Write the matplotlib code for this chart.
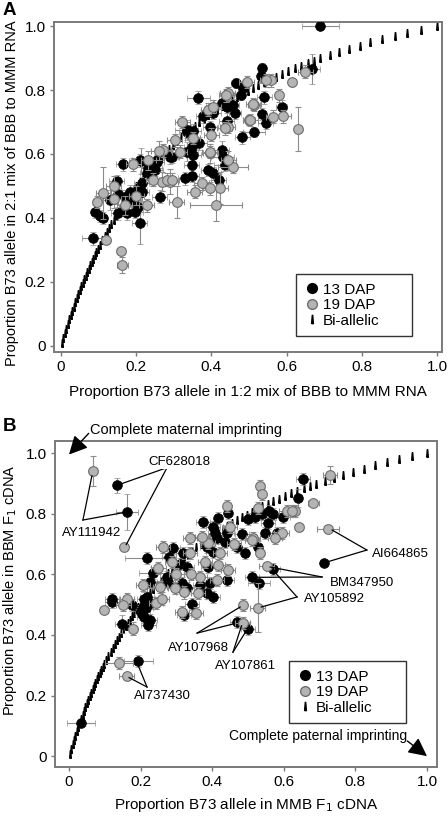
import matplotlib
matplotlib.use("Agg")
import matplotlib.pyplot as plt
from matplotlib.lines import Line2D

plt.rcParams['font.family'] = ['Liberation Sans', 'DejaVu Sans']

# ---- panel A: 2:1 vs 1:2 RNA mixes ----
a13_x = [0.69, 0.668, 0.535, 0.531, 0.466, 0.485, 0.478, 0.365, 0.54, 0.587, 0.534, 0.545, 0.513, 0.482,
         0.428, 0.441, 0.458, 0.463, 0.441, 0.378, 0.405, 0.397, 0.334, 0.352, 0.368, 0.348, 0.334, 0.352,
         0.427, 0.43, 0.294, 0.254, 0.212, 0.166, 0.392, 0.405, 0.419, 0.436, 0.348, 0.33, 0.248, 0.23,
         0.148, 0.215, 0.215, 0.09, 0.104, 0.112, 0.13, 0.152, 0.17, 0.21, 0.183, 0.192, 0.205, 0.152,
         0.175, 0.197, 0.21, 0.085, 0.263, 0.25, 0.29, 0.348, 0.21, 0.232, 0.255, 0.334]
a13_y = [1.0, 0.865, 0.868, 0.843, 0.821, 0.805, 0.784, 0.776, 0.777, 0.748, 0.725, 0.697, 0.668, 0.652,
         0.76, 0.748, 0.753, 0.728, 0.703, 0.718, 0.728, 0.684, 0.675, 0.673, 0.634, 0.623, 0.607, 0.598,
         0.612, 0.59, 0.591, 0.576, 0.578, 0.568, 0.55, 0.54, 0.518, 0.566, 0.531, 0.524, 0.555, 0.54,
         0.515, 0.508, 0.482, 0.42, 0.406, 0.40, 0.456, 0.475, 0.466, 0.488, 0.482, 0.456, 0.434, 0.415,
         0.415, 0.42, 0.385, 0.337, 0.466, 0.55, 0.59, 0.565, 0.58, 0.556, 0.58, 0.67]
a13_xerr = [0.05, 0.02, 0.01, 0.01, 0.015, 0.015, 0.01, 0.03, 0.02, 0.015, 0.01, 0.02, 0.03, 0.02,
            0.02, 0.02, 0.015, 0.015, 0.02, 0.02, 0.02, 0.02, 0.03, 0.02, 0.02, 0.02, 0.03, 0.02,
            0.02, 0.03, 0.02, 0.02, 0.03, 0.02, 0.02, 0.02, 0.02, 0.03, 0.02, 0.02, 0.02, 0.02,
            0.02, 0.02, 0.02, 0.01, 0.01, 0.01, 0.02, 0.02, 0.02, 0.02, 0.02, 0.02, 0.02, 0.02,
            0.02, 0.02, 0.02, 0.03, 0.02, 0.02, 0.02, 0.02, 0.02, 0.02, 0.02, 0.02]
a13_yerr = [0.005, 0.047, 0.015, 0.02, 0.015, 0.02, 0.015, 0.02, 0.02, 0.02, 0.02, 0.02, 0.015, 0.02,
            0.02, 0.02, 0.02, 0.02, 0.03, 0.02, 0.02, 0.02, 0.03, 0.02, 0.02, 0.02, 0.03, 0.02,
            0.03, 0.02, 0.02, 0.02, 0.04, 0.02, 0.02, 0.02, 0.02, 0.02, 0.02, 0.02, 0.02, 0.02,
            0.02, 0.02, 0.03, 0.02, 0.02, 0.02, 0.03, 0.03, 0.02, 0.02, 0.02, 0.02, 0.02, 0.02,
            0.02, 0.02, 0.065, 0.02, 0.02, 0.02, 0.02, 0.02, 0.02, 0.02, 0.02, 0.02]

a19_x = [0.65, 0.614, 0.558, 0.545, 0.443, 0.58, 0.591, 0.565, 0.631, 0.5, 0.513, 0.444, 0.323, 0.392,
         0.405, 0.316, 0.303, 0.397, 0.272, 0.232, 0.192, 0.458, 0.445, 0.374, 0.397, 0.423, 0.29, 0.268,
         0.356, 0.096, 0.112, 0.12, 0.16, 0.163, 0.228, 0.308, 0.412, 0.245, 0.281, 0.295, 0.396, 0.494,
         0.44, 0.511, 0.503, 0.40, 0.436, 0.2, 0.17, 0.14, 0.26, 0.35, 0.14]
a19_y = [0.857, 0.824, 0.83, 0.83, 0.79, 0.784, 0.718, 0.716, 0.678, 0.706, 0.753, 0.685, 0.70, 0.738,
         0.748, 0.607, 0.643, 0.602, 0.612, 0.58, 0.568, 0.56, 0.58, 0.508, 0.493, 0.494, 0.514, 0.514,
         0.482, 0.45, 0.478, 0.33, 0.297, 0.253, 0.44, 0.45, 0.44, 0.52, 0.52, 0.52, 0.606, 0.825,
         0.784, 0.756, 0.706, 0.66, 0.68, 0.47, 0.44, 0.46, 0.61, 0.65, 0.5]
a19_xerr = [0.02, 0.01, 0.015, 0.015, 0.02, 0.01, 0.02, 0.02, 0.01, 0.015, 0.015, 0.02, 0.02, 0.02,
            0.02, 0.02, 0.02, 0.02, 0.02, 0.02, 0.02, 0.04, 0.02, 0.02, 0.02, 0.02, 0.02, 0.02,
            0.02, 0.01, 0.02, 0.01, 0.01, 0.015, 0.02, 0.02, 0.07, 0.02, 0.02, 0.02, 0.02, 0.02,
            0.02, 0.02, 0.02, 0.02, 0.02, 0.02, 0.02, 0.02, 0.02, 0.02, 0.02]
a19_yerr = [0.02, 0.01, 0.02, 0.02, 0.02, 0.02, 0.02, 0.02, 0.068, 0.015, 0.02, 0.02, 0.02, 0.02,
            0.02, 0.02, 0.02, 0.03, 0.02, 0.03, 0.02, 0.02, 0.03, 0.02, 0.02, 0.05, 0.04, 0.03,
            0.02, 0.02, 0.08, 0.01, 0.01, 0.025, 0.02, 0.05, 0.05, 0.02, 0.02, 0.02, 0.02, 0.02,
            0.02, 0.02, 0.02, 0.02, 0.02, 0.03, 0.03, 0.03, 0.03, 0.02, 0.03]

# ---- panel B: reciprocal F1 cDNA ----
b13_x = [0.134, 0.162, 0.653, 0.64, 0.712, 0.559, 0.598, 0.5, 0.52, 0.538, 0.556, 0.547, 0.58, 0.484,
         0.529, 0.492, 0.47, 0.445, 0.417, 0.375, 0.403, 0.408, 0.44, 0.436, 0.413, 0.385, 0.403, 0.291,
         0.217, 0.28, 0.318, 0.31, 0.33, 0.389, 0.511, 0.531, 0.57, 0.235, 0.273, 0.277, 0.315, 0.33,
         0.366, 0.394, 0.44, 0.226, 0.385, 0.403, 0.12, 0.217, 0.12, 0.175, 0.149, 0.209, 0.222, 0.226,
         0.207, 0.226, 0.343, 0.322, 0.47, 0.5, 0.194, 0.034, 0.57, 0.534, 0.21, 0.215, 0.205]
b13_y = [0.894, 0.806, 0.915, 0.852, 0.636, 0.81, 0.788, 0.781, 0.788, 0.80, 0.77, 0.737, 0.737, 0.733,
         0.69, 0.67, 0.69, 0.802, 0.785, 0.773, 0.757, 0.736, 0.737, 0.707, 0.72, 0.69, 0.674, 0.686,
         0.653, 0.657, 0.67, 0.634, 0.624, 0.624, 0.59, 0.571, 0.617, 0.603, 0.59, 0.575, 0.571, 0.554,
         0.564, 0.571, 0.581, 0.575, 0.538, 0.525, 0.518, 0.525, 0.51, 0.498, 0.436, 0.46, 0.432, 0.448,
         0.492, 0.505, 0.502, 0.465, 0.443, 0.421, 0.313, 0.109, 0.80, 0.805, 0.52, 0.49, 0.47]
b13_xerr = [0.01, 0.03, 0.02, 0.01, 0.01, 0.01, 0.02, 0.01, 0.01, 0.01, 0.02, 0.01, 0.02, 0.02,
            0.01, 0.01, 0.01, 0.01, 0.01, 0.02, 0.02, 0.02, 0.02, 0.02, 0.02, 0.02, 0.02, 0.02,
            0.06, 0.02, 0.02, 0.02, 0.02, 0.02, 0.02, 0.03, 0.02, 0.04, 0.02, 0.02, 0.02, 0.02,
            0.02, 0.02, 0.02, 0.02, 0.02, 0.02, 0.02, 0.02, 0.02, 0.02, 0.02, 0.02, 0.02, 0.02,
            0.02, 0.02, 0.02, 0.02, 0.02, 0.02, 0.04, 0.04, 0.01, 0.01, 0.02, 0.02, 0.02]
b13_yerr = [0.025, 0.06, 0.02, 0.03, 0.01, 0.02, 0.02, 0.02, 0.02, 0.02, 0.02, 0.02, 0.02, 0.02,
            0.02, 0.02, 0.02, 0.02, 0.02, 0.02, 0.02, 0.02, 0.02, 0.02, 0.02, 0.02, 0.02, 0.02,
            0.02, 0.02, 0.02, 0.02, 0.02, 0.02, 0.02, 0.02, 0.02, 0.02, 0.02, 0.02, 0.02, 0.02,
            0.02, 0.02, 0.02, 0.02, 0.02, 0.02, 0.02, 0.03, 0.02, 0.02, 0.03, 0.02, 0.02, 0.02,
            0.02, 0.02, 0.02, 0.02, 0.02, 0.02, 0.02, 0.01, 0.02, 0.02, 0.02, 0.02, 0.02]

b19_x = [0.067, 0.154, 0.729, 0.682, 0.642, 0.724, 0.534, 0.538, 0.608, 0.631, 0.529, 0.594, 0.575, 0.514,
         0.534, 0.442, 0.45, 0.389, 0.338, 0.371, 0.422, 0.263, 0.287, 0.338, 0.417, 0.445, 0.552, 0.413,
         0.207, 0.254, 0.296, 0.366, 0.36, 0.162, 0.098, 0.152, 0.179, 0.243, 0.315, 0.354, 0.485, 0.527,
         0.485, 0.14, 0.161, 0.623, 0.511, 0.30, 0.34, 0.25, 0.32, 0.26, 0.38, 0.46]
b19_y = [0.941, 0.69, 0.927, 0.835, 0.756, 0.75, 0.892, 0.866, 0.81, 0.81, 0.818, 0.737, 0.72, 0.72,
         0.67, 0.825, 0.757, 0.702, 0.72, 0.722, 0.67, 0.69, 0.641, 0.67, 0.63, 0.614, 0.627, 0.581,
         0.564, 0.558, 0.554, 0.59, 0.538, 0.518, 0.482, 0.498, 0.421, 0.505, 0.476, 0.472, 0.498, 0.49,
         0.438, 0.307, 0.264, 0.81, 0.713, 0.60, 0.60, 0.62, 0.54, 0.52, 0.64, 0.70]
b19_xerr = [0.01, 0.01, 0.02, 0.015, 0.01, 0.03, 0.01, 0.01, 0.02, 0.01, 0.01, 0.02, 0.02, 0.02,
            0.01, 0.01, 0.02, 0.02, 0.02, 0.02, 0.02, 0.02, 0.02, 0.02, 0.02, 0.02, 0.02, 0.02,
            0.02, 0.02, 0.02, 0.02, 0.02, 0.02, 0.01, 0.02, 0.01, 0.02, 0.02, 0.02, 0.01, 0.02,
            0.02, 0.04, 0.02, 0.02, 0.02, 0.02, 0.02, 0.02, 0.02, 0.02, 0.02, 0.02]
b19_yerr = [0.05, 0.01, 0.03, 0.01, 0.01, 0.01, 0.02, 0.02, 0.02, 0.02, 0.02, 0.02, 0.02, 0.02,
            0.02, 0.02, 0.02, 0.02, 0.02, 0.02, 0.02, 0.02, 0.02, 0.02, 0.02, 0.02, 0.01, 0.02,
            0.02, 0.02, 0.02, 0.02, 0.02, 0.02, 0.01, 0.02, 0.02, 0.02, 0.02, 0.02, 0.02, 0.08,
            0.02, 0.02, 0.01, 0.02, 0.02, 0.02, 0.02, 0.02, 0.02, 0.02, 0.02, 0.02]

# bi-allelic expectation (same points on both panels)
bi_x = [0.002, 0.006, 0.010, 0.014, 0.018, 0.022, 0.026, 0.030, 0.034, 0.038, 0.042, 0.046, 0.050,
        0.054, 0.058, 0.062, 0.066, 0.070, 0.074, 0.078, 0.082, 0.086, 0.090, 0.094, 0.098,
        0.104, 0.110, 0.116, 0.122, 0.128, 0.134, 0.140, 0.146, 0.152, 0.158, 0.164, 0.170, 0.176,
        0.182, 0.188, 0.194, 0.200, 0.209, 0.218, 0.227, 0.236, 0.246, 0.256, 0.266, 0.276, 0.287,
        0.298, 0.309, 0.320, 0.332, 0.344, 0.356, 0.368, 0.380, 0.392, 0.404, 0.416, 0.429, 0.442,
        0.455, 0.468, 0.482, 0.496, 0.510, 0.525, 0.540, 0.555, 0.571, 0.587, 0.604, 0.621, 0.638,
        0.656, 0.673, 0.690, 0.715, 0.740, 0.766, 0.794, 0.823, 0.854, 0.887, 0.921, 0.957, 1.000]
bi_y = [0.008, 0.024, 0.039, 0.054, 0.068, 0.083, 0.097, 0.110, 0.123, 0.136, 0.149, 0.162, 0.174,
        0.186, 0.198, 0.209, 0.220, 0.231, 0.242, 0.253, 0.263, 0.273, 0.284, 0.293, 0.303,
        0.317, 0.331, 0.344, 0.357, 0.370, 0.382, 0.394, 0.406, 0.418, 0.429, 0.440, 0.450, 0.461,
        0.471, 0.481, 0.491, 0.500, 0.514, 0.527, 0.540, 0.553, 0.566, 0.579, 0.592, 0.604, 0.617,
        0.629, 0.641, 0.653, 0.665, 0.677, 0.689, 0.700, 0.710, 0.721, 0.731, 0.740, 0.750, 0.760,
        0.770, 0.779, 0.788, 0.797, 0.806, 0.816, 0.824, 0.833, 0.842, 0.850, 0.859, 0.868, 0.876,
        0.884, 0.892, 0.899, 0.909, 0.919, 0.929, 0.939, 0.949, 0.959, 0.969, 0.979, 0.989, 1.000]

ticks = [0, 0.2, 0.4, 0.6, 0.8, 1.0]
tick_labels = ['0', '0.2', '0.4', '0.6', '0.8', '1.0']

BLACK = '#000000'
GREY_FILL = '#b4b4b4'
GREY_EDGE = '#6e6e6e'
ERR = '#8c8c8c'
SPINE = '#7a7a7a'
# small tapered "arrow" marker for the bi-allelic points
bi_marker = [(-0.22, -1.0), (0.22, -1.0), (0.05, 1.0), (-0.05, 1.0), (-0.22, -1.0)]


def draw_panel(ax, p13, p19, xlim, ylim, xlabel, ylabel, ylabel_pos, leg_box, xlabelpad):
    ax.plot(bi_x, bi_y, linestyle='none', marker=bi_marker, ms=5.5, color=BLACK, zorder=2)
    x, y, xe, ye = p13
    ax.errorbar(x, y, xerr=xe, yerr=ye, fmt='o', ms=7, mfc=BLACK, mec=BLACK, mew=0.5,
                ecolor=ERR, elinewidth=0.8, capsize=2.5, capthick=0.8, zorder=3)
    x, y, xe, ye = p19
    ax.errorbar(x, y, xerr=xe, yerr=ye, fmt='o', ms=7, mfc=GREY_FILL, mec=GREY_EDGE, mew=0.8,
                ecolor=ERR, elinewidth=0.8, capsize=2.5, capthick=0.8, zorder=4)
    ax.set_xlim(*xlim)
    ax.set_ylim(*ylim)
    ax.set_xticks(ticks)
    ax.set_xticklabels(tick_labels)
    ax.set_yticks(ticks)
    ax.set_yticklabels(tick_labels)
    ax.tick_params(direction='out', length=3, width=1, color=SPINE, labelsize=11, pad=3)
    for s in ax.spines.values():
        s.set_color(SPINE)
        s.set_linewidth(1.4)
    ax.set_xlabel(xlabel, fontsize=11, labelpad=xlabelpad)
    ax.set_ylabel(ylabel, fontsize=10.5)
    ax.yaxis.set_label_coords(*ylabel_pos)
    handles = [
        Line2D([], [], linestyle='none', marker='o', ms=7, mfc=BLACK, mec=BLACK),
        Line2D([], [], linestyle='none', marker='o', ms=7, mfc=GREY_FILL, mec=GREY_EDGE),
        Line2D([], [], linestyle='none', marker=bi_marker, ms=6, color=BLACK),
    ]
    leg = ax.legend(handles, ['13 DAP', '19 DAP', 'Bi-allelic'], loc='lower left',
                    bbox_to_anchor=leg_box, mode='expand', fontsize=11, frameon=True,
                    fancybox=False, handletextpad=0.2, handlelength=1.0, borderpad=0.55,
                    labelspacing=0.1, borderaxespad=0)
    leg.get_frame().set_edgecolor(BLACK)
    leg.get_frame().set_linewidth(1.0)
    leg.set_zorder(10)


fig = plt.figure(figsize=(4.48, 8.16), dpi=100)
axA = fig.add_axes([0.1205, 0.5686, 0.866, 0.4044])
axB = fig.add_axes([0.1228, 0.0600, 0.8527, 0.3995])

draw_panel(axA, (a13_x, a13_y, a13_xerr, a13_yerr), (a19_x, a19_y, a19_xerr, a19_yerr),
           (-0.0186, 1.013), (-0.019, 1.0125),
           'Proportion B73 allele in 1:2 mix of BBB to MMM RNA',
           'Proportion B73 allele in 2:1 mix of BBB to MMM RNA', (-0.09, 0.48),
           (0.624, 0.048, 0.299, 0.19), 8)
draw_panel(axB, (b13_x, b13_y, b13_xerr, b13_yerr), (b19_x, b19_y, b19_xerr, b19_yerr),
           (-0.039, 1.028), (-0.036, 1.0396),
           'Proportion B73 allele in MMB F$_1$ cDNA',
           'Proportion B73 allele in BBM F$_1$ cDNA', (-0.094, 0.543),
           (0.613, 0.135, 0.306, 0.19), 5)

fig.text(0.006, 0.997, 'A', fontsize=13.5, fontweight='bold', va='top', ha='left')
fig.text(0.006, 0.488, 'B', fontsize=13.5, fontweight='bold', va='top', ha='left')

# imprinting arrows
arrow = dict(arrowstyle='-|>', mutation_scale=28, color=BLACK, lw=1.0, shrinkA=0, shrinkB=0)
axB.annotate('', xy=(0.0, 0.995), xytext=(0.055, 1.065), arrowprops=arrow, annotation_clip=False)
axB.text(0.06, 1.075, 'Complete maternal imprinting', fontsize=10.5, ha='left', va='center')
axB.annotate('', xy=(1.0, 0.0), xytext=(0.945, 0.05), arrowprops=arrow, annotation_clip=False)
axB.text(0.945, 0.065, 'Complete paternal imprinting', fontsize=10, ha='right', va='center')

# gene labels: (text, text position, line apex, targets)
gene_labels = [
    ('CF628018', (0.307, 0.970), (0.274, 0.952), [(0.145, 0.898), (0.160, 0.698)]),
    ('AY111942', (0.063, 0.736), (0.039, 0.779), [(0.064, 0.925), (0.150, 0.803)]),
    ('AI664865', (0.925, 0.668), (0.832, 0.680), [(0.735, 0.746), (0.722, 0.641)]),
    ('BM347950', (0.818, 0.572), (0.707, 0.591), [(0.562, 0.624), (0.522, 0.590)]),
    ('AY105892', (0.742, 0.517), (0.637, 0.525), [(0.575, 0.607), (0.537, 0.492)]),
    ('AY107968', (0.363, 0.358), (0.358, 0.406), [(0.478, 0.492), (0.462, 0.437)]),
    ('AY107861', (0.492, 0.296), (0.458, 0.343), [(0.482, 0.430), (0.495, 0.413)]),
    ('AI737430', (0.262, 0.197), (0.218, 0.228), [(0.192, 0.303), (0.168, 0.259)]),
]
for name, tpos, apex, targets in gene_labels:
    for tx, ty in targets:
        axB.plot([apex[0], tx], [apex[1], ty], color=BLACK, lw=0.9, zorder=5)
    axB.text(tpos[0], tpos[1], name, fontsize=9.5, ha='center', va='center', zorder=6,
             bbox=dict(facecolor='white', edgecolor='none', pad=0.5))

fig.savefig('out.png', dpi=100)
